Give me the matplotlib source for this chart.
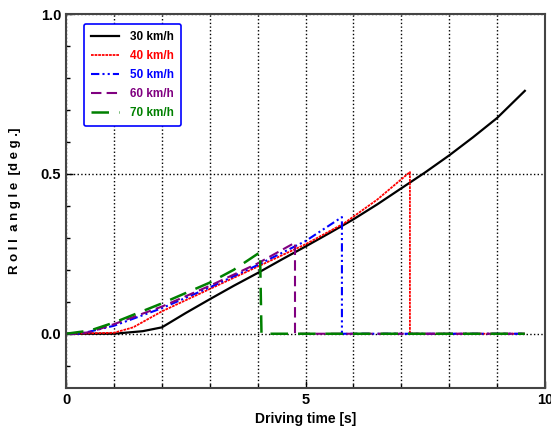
import matplotlib
matplotlib.use("Agg")
import matplotlib.pyplot as plt
from matplotlib.ticker import MultipleLocator

plt.rcParams['font.family'] = ['Liberation Sans', 'DejaVu Sans']
plt.rcParams['font.weight'] = 'bold'

# roll angle curves
t_30 = [0, 1.0, 1.6, 2.0, 2.5, 3.0, 3.5, 4.0, 4.5, 5.0, 5.5, 6.0, 6.5, 7.0, 7.5, 8.0, 8.5, 9.0, 9.58]
y_30 = [0, 0, 0.008, 0.02, 0.065, 0.108, 0.15, 0.19, 0.232, 0.273, 0.315, 0.358, 0.405, 0.455, 0.505, 0.558, 0.615, 0.675, 0.76]

t_40 = [0, 1.0, 1.4, 2.0, 3.0, 4.0, 5.0, 5.8, 6.5, 7.18, 7.18, 9.58]
y_40 = [0, 0.003, 0.02, 0.07, 0.14, 0.21, 0.28, 0.345, 0.42, 0.506, 0, 0]

t_50 = [0, 0.3, 1.0, 2.0, 3.0, 4.0, 5.0, 5.76, 5.76, 9.58]
y_50 = [0, 0, 0.025, 0.08, 0.145, 0.215, 0.29, 0.365, 0, 0]

t_60 = [0, 0.2, 0.5, 1.0, 2.0, 3.0, 4.0, 4.78, 4.78, 9.58]
y_60 = [0, 0, 0.005, 0.03, 0.085, 0.15, 0.22, 0.285, 0, 0]

t_70 = [0, 0.5, 1.0, 2.0, 3.0, 3.5, 4.05, 4.08, 9.58]
y_70 = [0, 0.01, 0.035, 0.095, 0.16, 0.2, 0.255, 0, 0]

labels = ['30 km/h', '40 km/h', '50 km/h', '60 km/h', '70 km/h']
colors = ['black', 'red', 'blue', 'purple', 'green']

fig = plt.figure(figsize=(5.51, 4.42), dpi=100)
ax = fig.add_axes([0.12, 0.122, 0.869, 0.846])

ax.plot(t_30, y_30, color='black', lw=1.6, ls='-', label=labels[0])
ax.plot(t_40, y_40, color='red', lw=1.3, ls=(0, (1.5, 0.5)), label=labels[1])
ax.plot(t_50, y_50, color='blue', lw=1.5, ls=(0, (4, 1.5, 1, 1.5, 1, 1.5)), label=labels[2])
ax.plot(t_60, y_60, color='purple', lw=1.5, ls=(0, (5, 2.5)), label=labels[3])
ax.plot(t_70, y_70, color='green', lw=1.8, ls=(0, (7, 4)), label=labels[4])

ax.set_xlim(0, 10)
ax.set_ylim(-0.17, 1.0)
ax.set_xticks([0, 5, 10])
ax.set_yticks([0.0, 0.5, 1.0])
ax.set_yticklabels(['0.0', '0.5', '1.0'])
ax.xaxis.set_minor_locator(MultipleLocator(1))
ax.yaxis.set_minor_locator(MultipleLocator(0.1))
ax.tick_params(which='both', direction='in', labelsize=10.5, width=1)
ax.tick_params(which='major', length=5)
ax.tick_params(which='minor', length=3)

ax.grid(True, which='major', axis='y', color='black', ls=':', lw=1)
ax.grid(True, which='both', axis='x', color='black', ls=':', lw=1)

for s in ax.spines.values():
    s.set_linewidth(1.5)
    s.set_color('#444444')

ax.set_xlabel('Driving time [s]', fontsize=10, fontweight='bold', labelpad=4)
ax.set_ylabel('R o l l  a n g l e  [d e g .]', fontsize=9.5, fontweight='bold', labelpad=14)

leg = ax.legend(loc='upper left', bbox_to_anchor=(0.025, 0.99), fontsize=8.5,
                frameon=True, fancybox=True, handlelength=2.4, labelspacing=0.6,
                borderpad=0.6, handletextpad=0.9)
leg.get_frame().set_edgecolor('blue')
leg.get_frame().set_linewidth(1.2)
leg.get_frame().set_alpha(1)
for txt, c in zip(leg.get_texts(), colors):
    txt.set_color(c)
    txt.set_fontweight('bold')

fig.savefig('out.png', dpi=100)
